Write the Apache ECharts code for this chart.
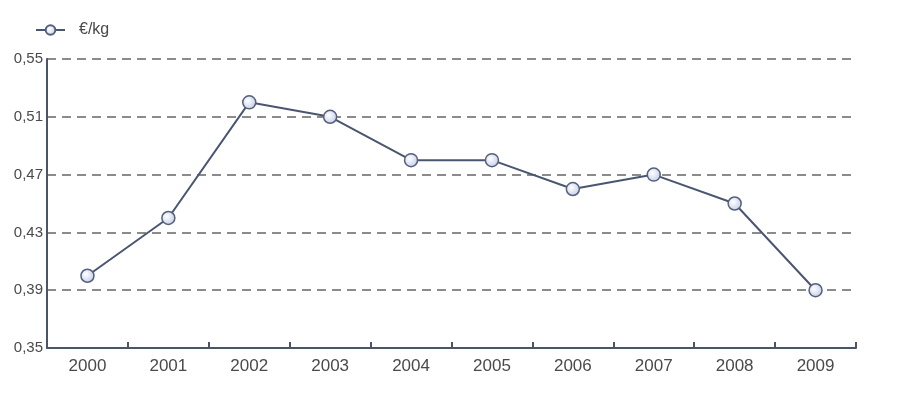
<!DOCTYPE html>
<html>
<head>
<meta charset="utf-8">
<script src="https://cdn.jsdelivr.net/npm/echarts@6/dist/echarts.min.js"></script>
<style>
  html, body { margin: 0; padding: 0; background: #fff; }
  #chart { width: 912px; height: 412px; }
</style>
</head>
<body>
<div id="chart"></div>
<script>
// Yearly price in €/kg
const years = ['2000', '2001', '2002', '2003', '2004', '2005', '2006', '2007', '2008', '2009'];
const prices = [0.40, 0.44, 0.52, 0.51, 0.48, 0.48, 0.46, 0.47, 0.45, 0.39];
const seriesName = '€/kg';

const chart = echarts.init(document.getElementById('chart'));
chart.setOption({
  animation: false,
  textStyle: { fontFamily: 'Liberation Sans, Arial, sans-serif' },
  legend: {
    left: 30,
    top: 17,
    itemWidth: 29,
    itemHeight: 12,
    textStyle: { color: '#4a4a4a', fontSize: 16, padding: [0, 0, 0, 9] },
    data: [seriesName]
  },
  grid: { left: 47, right: 56, top: 59, bottom: 64 },
  xAxis: {
    type: 'category',
    data: years,
    boundaryGap: true,
    axisLine: { show: true, lineStyle: { color: '#4a5568', width: 2 } },
    axisTick: { show: true, inside: true, length: 6, lineStyle: { color: '#4a5568', width: 2 } },
    axisLabel: { color: '#4a4a4a', fontSize: 17, margin: 10 }
  },
  yAxis: {
    type: 'value',
    min: 0.35,
    max: 0.55,
    interval: 0.04,
    axisLine: { show: true, lineStyle: { color: '#4a5568', width: 2 } },
    axisTick: { show: false },
    axisLabel: {
      color: '#4a4a4a',
      fontSize: 15,
      margin: 4,
      formatter: v => v.toFixed(2).replace('.', ',')
    },
    splitLine: { show: true, lineStyle: { color: '#666', type: [9, 6], width: 1.5 } }
  },
  series: [{
    name: seriesName,
    type: 'line',
    data: prices,
    symbol: 'circle',
    symbolSize: 13,
    lineStyle: { color: '#4a5670', width: 2 },
    itemStyle: {
      color: new echarts.graphic.RadialGradient(0.4, 0.4, 0.7, [
        { offset: 0, color: '#ffffff' },
        { offset: 1, color: '#bcc8e6' }
      ]),
      borderColor: '#56607c',
      borderWidth: 1.5
    }
  }]
});
</script>
</body>
</html>
